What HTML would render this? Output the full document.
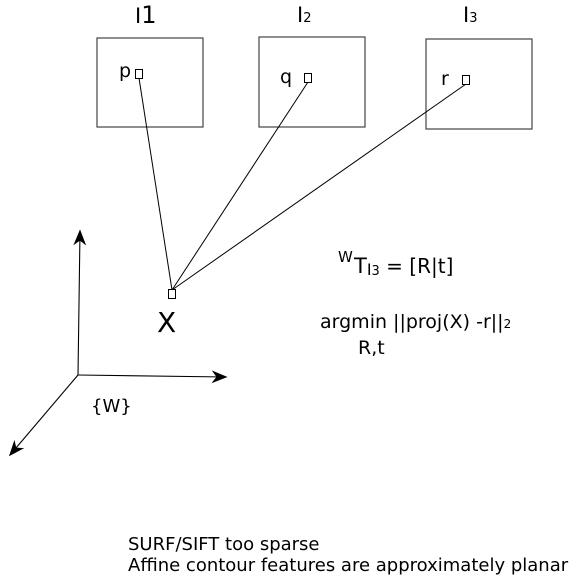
<!DOCTYPE html>
<html><head><meta charset="utf-8"><style>
body{margin:0;background:#fff}
svg{display:block;font-family:"DejaVu Sans","Liberation Sans",sans-serif}
</style></head><body>
<svg width="578" height="588" viewBox="0 0 578 588">
<defs><marker id="ar" viewBox="0 0 10 10" refX="9" refY="5" markerWidth="16" markerHeight="16" markerUnits="userSpaceOnUse" orient="auto"><path d="M0,1 L10,5 L0,9 L3,5 z" fill="#000"/></marker></defs>
<g fill="none" stroke="#444" stroke-width="1.2">
<rect x="97" y="38" width="106" height="89"/>
<rect x="259" y="37" width="106" height="90"/>
<rect x="426" y="39" width="106" height="90"/>
</g>
<g stroke="#000" stroke-width="1">
<line x1="139" y1="78" x2="172" y2="290"/>
<line x1="308" y1="82" x2="172" y2="290"/>
<line x1="466" y1="84" x2="172" y2="290"/>
</g>
<g fill="#fff" stroke="#000" stroke-width="1">
<rect x="135.5" y="69.5" width="7" height="9"/>
<rect x="304.5" y="73.5" width="7" height="9"/>
<rect x="462.5" y="75.5" width="7" height="9"/>
<rect x="168.5" y="289.5" width="7" height="9"/>
</g>
<g font-size="19" fill="#000">
<text x="135" y="23" font-size="21">I<tspan font-size="24">1</tspan></text>
<text x="297" y="22" font-size="21">I<tspan font-size="13">2</tspan></text>
<text x="463" y="22" font-size="21">I<tspan font-size="13">3</tspan></text>
<text x="119" y="77">p</text>
<text x="280" y="83">q</text>
<text x="441" y="85">r</text>
<text x="157" y="332" font-size="28">X</text>
<text x="91" y="412" font-size="18">{W}</text>
<text x="338" y="262" font-size="15">W</text>
<text x="354" y="273" font-size="21">T<tspan font-size="16" dy="2">I</tspan><tspan font-size="13">3</tspan><tspan dy="-2" font-size="20"> = [R|t]</tspan></text>
<text x="320" y="328" font-size="19">argmin ||proj(X) -r||<tspan font-size="12">2</tspan></text>
<text x="358" y="354" font-size="19">R,t</text>
<text x="128" y="550" font-size="18">SURF/SIFT too sparse</text>
<text x="128" y="571" font-size="18">Affine contour features are approximately planar</text>
</g>
<g stroke="#000" stroke-width="1.1" marker-end="url(#ar)">
<line x1="78" y1="375" x2="80" y2="231"/>
<line x1="78" y1="375" x2="226" y2="377"/>
<line x1="78" y1="375" x2="10" y2="455"/>
</g>
</svg>
</body></html>
